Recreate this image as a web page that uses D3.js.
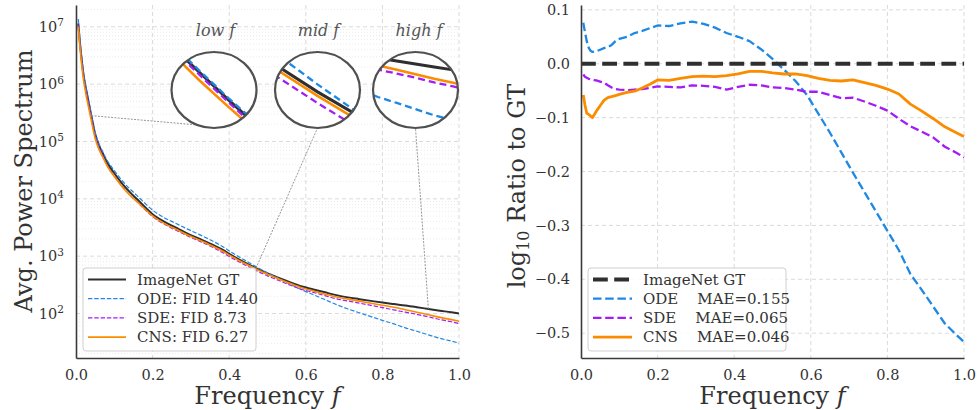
<!DOCTYPE html>
<html>
<head>
<meta charset="utf-8">
<script src="https://cdn.jsdelivr.net/npm/d3@7"></script>
<style>
  body { margin: 0; background: #fff; }
  svg { display: block; font-family: "DejaVu Serif", serif; }
  text { white-space: pre; }
</style>
</head>
<body>
<svg id="chart" width="977" height="410"></svg>
<script>
// Frequency grid (normalised) and values
const freq = [0.006, 0.01, 0.015, 0.02, 0.025, 0.03, 0.04, 0.05, 0.06, 0.07, 0.08, 0.09,
  0.1, 0.12, 0.14, 0.16, 0.18, 0.2, 0.23, 0.26, 0.29, 0.32, 0.35, 0.38, 0.41, 0.44,
  0.47, 0.5, 0.53, 0.56, 0.59, 0.62, 0.65, 0.68, 0.71, 0.74, 0.77, 0.8, 0.83, 0.86,
  0.89, 0.92, 0.95, 0.98, 1.0];

// ImageNet GT average power spectrum
const gtPower = [1.15e7, 5.5e6, 2.63e6, 1.41e6, 9.02e5, 6.1e5, 2.82e5, 1.35e5, 8.5e4, 6.17e4,
  4.47e4, 3.47e4, 2.79e4, 1.86e4, 1.32e4, 9.8e3, 7.2e3, 5.4e3, 4.0e3, 3.16e3, 2.5e3, 2.04e3,
  1.66e3, 1.32e3, 1.0e3, 776, 617, 501, 417, 347, 295, 263, 234, 209, 191, 178, 166, 155,
  146, 138, 129, 120, 112, 105, 100];

// log10(spectrum / GT) for each sampler
const odeRatio = [0.076, 0.060, 0.042, 0.030, 0.024, 0.022, 0.023, 0.026, 0.029, 0.031, 0.035,
  0.042, 0.046, 0.050, 0.057, 0.061, 0.066, 0.071, 0.070, 0.075, 0.078, 0.074, 0.067, 0.057,
  0.050, 0.042, 0.027, 0.009, -0.011, -0.032, -0.058, -0.093, -0.128, -0.165, -0.202, -0.238,
  -0.274, -0.310, -0.346, -0.390, -0.420, -0.451, -0.482, -0.503, -0.516];
const sdeRatio = [-0.020, -0.024, -0.026, -0.028, -0.029, -0.030, -0.031, -0.033, -0.035, -0.040,
  -0.044, -0.047, -0.048, -0.049, -0.048, -0.047, -0.045, -0.042, -0.043, -0.044, -0.040, -0.041,
  -0.043, -0.048, -0.043, -0.039, -0.040, -0.044, -0.045, -0.048, -0.052, -0.052, -0.058, -0.064,
  -0.063, -0.070, -0.078, -0.087, -0.102, -0.116, -0.126, -0.137, -0.154, -0.165, -0.174];
const cnsRatio = [-0.058, -0.075, -0.092, -0.094, -0.097, -0.100, -0.088, -0.078, -0.068, -0.063,
  -0.061, -0.059, -0.057, -0.053, -0.051, -0.045, -0.038, -0.030, -0.031, -0.027, -0.024, -0.023,
  -0.024, -0.022, -0.019, -0.014, -0.014, -0.017, -0.019, -0.019, -0.022, -0.027, -0.031, -0.032,
  -0.030, -0.035, -0.040, -0.047, -0.056, -0.075, -0.088, -0.102, -0.117, -0.128, -0.135];

const seriesNames = ["ImageNet GT", "ODE", "SDE", "CNS"];
const fidLabels = ["ImageNet GT", "ODE: FID 14.40", "SDE: FID 8.73", "CNS: FID 6.27"];
const maeLabels = ["ImageNet GT", "ODE    MAE=0.155", "SDE    MAE=0.065", "CNS    MAE=0.046"];

const xTicks = [0, 0.2, 0.4, 0.6, 0.8, 1.0];
const leftYTicks = [1e2, 1e3, 1e4, 1e5, 1e6, 1e7];
const rightYTicks = [0.1, 0, -0.1, -0.2, -0.3, -0.4, -0.5];

const colors = {"ImageNet GT": "#2f2f2f", ODE: "#1e88e5", SDE: "#a31cf5", CNS: "#fb8c00"};

// power spectrum of each sampler = GT * 10^ratio (definition of the right panel)
const ratios = {"ImageNet GT": freq.map(() => 0), ODE: odeRatio, SDE: sdeRatio, CNS: cnsRatio};
const spectra = {};
seriesNames.forEach(s => {
  spectra[s] = freq.map((f, i) => ({f: f, p: gtPower[i] * Math.pow(10, ratios[s][i])}));
});

const svg = d3.select("#chart");
svg.append("rect").attr("width", 977).attr("height", 410).attr("fill", "#fff");

const plotTop = 5, plotBottom = 358;
const tickFont = 14.5, labelFont = 24;

// ---------- left panel ----------
const xL = d3.scaleLinear().domain([0, 1]).range([76, 459]);
const yL = d3.scaleLog().domain([Math.pow(10, 1.224), Math.pow(10, 7.38)]).range([plotBottom, plotTop]);

const left = svg.append("g");

// grid
const minor = [];
for (let e = 1; e < 8; e++) for (let m = 2; m < 10; m++) {
  const v = m * Math.pow(10, e);
  if (v > yL.domain()[0] && v < yL.domain()[1]) minor.push(v);
}
left.append("g").selectAll("line").data(minor).enter().append("line")
  .attr("x1", 76).attr("x2", 459).attr("y1", d => yL(d)).attr("y2", d => yL(d))
  .attr("stroke", "#e4e4e4").attr("stroke-width", 0.7).attr("stroke-dasharray", "1,2");
left.append("g").selectAll("line").data(leftYTicks).enter().append("line")
  .attr("x1", 76).attr("x2", 459).attr("y1", d => yL(d)).attr("y2", d => yL(d))
  .attr("stroke", "#d6d6d6").attr("stroke-width", 0.9).attr("stroke-dasharray", "4,3");
left.append("g").selectAll("line").data(xTicks.slice(1)).enter().append("line")
  .attr("x1", d => xL(d)).attr("x2", d => xL(d)).attr("y1", plotTop).attr("y2", plotBottom)
  .attr("stroke", "#d6d6d6").attr("stroke-width", 0.9).attr("stroke-dasharray", "4,3");

const lineStyleL = {
  "ImageNet GT": {w: 2, dash: null},
  ODE: {w: 1.2, dash: "4.4,1.9"},
  SDE: {w: 1.2, dash: "4.4,1.9"},
  CNS: {w: 1.6, dash: null}
};

svg.append("clipPath").attr("id", "clipL").append("rect")
  .attr("x", 76).attr("y", plotTop).attr("width", 383).attr("height", plotBottom - plotTop);

const lineL = d3.line().curve(d3.curveMonotoneX).x(d => xL(d.f)).y(d => yL(d.p));
const curvesL = left.append("g").attr("clip-path", "url(#clipL)");
seriesNames.forEach(s => {
  curvesL.append("path").datum(spectra[s]).attr("d", lineL)
    .attr("fill", "none").attr("stroke", colors[s])
    .attr("stroke-width", lineStyleL[s].w)
    .attr("stroke-dasharray", lineStyleL[s].dash)
    .attr("stroke-linejoin", "round");
});

// zoom insets (lens windows in f and log10 power, rim angle of the connector)
const insets = [
  {cx: 214, fc: 0.035, fw: 0.03, lc: 5.57, lh: 0.95, anchorF: 0.04, title: "low", tx: 215.5, rim: 113},
  {cx: 317.5, fc: 0.47, fw: 0.059, lc: 2.797, lh: 0.272, anchorF: 0.47, title: "mid", tx: 318.5, rim: 90},
  {cx: 415.5, fc: 0.92, fw: 0.136, lc: 1.82, lh: 0.76, anchorF: 0.92, title: "high", tx: 419, rim: 90}
];
const rx = 42.5, ry = 38, cy = 90;

insets.forEach(ins => {
  const gi = freq.indexOf(ins.anchorF);
  const a = ins.rim * Math.PI / 180;
  left.append("line").attr("x1", xL(ins.anchorF)).attr("y1", yL(gtPower[gi]))
    .attr("x2", ins.cx + rx * Math.cos(a)).attr("y2", cy + ry * Math.sin(a))
    .attr("stroke", "#8a8a8a").attr("stroke-width", 0.9).attr("stroke-dasharray", "2,1.3");
});

insets.forEach((ins, k) => {
  const g = left.append("g");
  const id = "lens" + k;
  svg.append("clipPath").attr("id", id).append("ellipse")
    .attr("cx", ins.cx).attr("cy", cy).attr("rx", rx).attr("ry", ry);
  g.append("ellipse").attr("cx", ins.cx).attr("cy", cy).attr("rx", rx).attr("ry", ry)
    .attr("fill", "#fff");
  const xi = d3.scaleLinear().domain([ins.fc - ins.fw / 2, ins.fc + ins.fw / 2]).range([ins.cx - rx, ins.cx + rx]);
  const yi = d3.scaleLinear().domain([ins.lc - ins.lh / 2, ins.lc + ins.lh / 2]).range([cy + ry, cy - ry]);
  const li = d3.line().x(d => xi(d.f)).y(d => yi(Math.log10(d.p)));
  const gc = g.append("g").attr("clip-path", `url(#${id})`);
  const insetW = {"ImageNet GT": 3, ODE: 2.3, SDE: 2.3, CNS: 2.6};
  seriesNames.forEach(s => {
    gc.append("path").datum(spectra[s]).attr("d", li)
      .attr("fill", "none").attr("stroke", colors[s]).attr("stroke-width", insetW[s])
      .attr("stroke-dasharray", lineStyleL[s].dash ? "7,4" : null);
  });
  g.append("ellipse").attr("cx", ins.cx).attr("cy", cy).attr("rx", rx).attr("ry", ry)
    .attr("fill", "none").attr("stroke", "#505050").attr("stroke-width", 2.2);
  const t = left.append("text").attr("x", ins.tx).attr("y", 36).attr("text-anchor", "middle")
    .attr("font-size", 16).attr("font-style", "italic").attr("fill", "#555");
  t.text(ins.title + " ");
  t.append("tspan").text("f");
});

// axes
const axXL = left.append("g").attr("transform", `translate(0,${plotBottom})`)
  .call(d3.axisBottom(xL).tickValues(xTicks).tickFormat(d3.format(".1f")).tickSize(0).tickSizeOuter(0).tickPadding(12));
const axYL = left.append("g").attr("transform", "translate(76,0)")
  .call(d3.axisLeft(yL).tickValues(leftYTicks).tickFormat(() => "").tickSize(0).tickSizeOuter(0).tickPadding(12));
axYL.selectAll(".tick text").each(function(d) {
  const t = d3.select(this);
  t.text("10");
  t.append("tspan").attr("dy", "-0.55em").attr("font-size", "10.5px").text(Math.round(Math.log10(d)));
});

// ---------- right panel ----------
const xR = d3.scaleLinear().domain([0, 1]).range([581, 964]);
const yR = d3.scaleLinear().domain([-0.546, 0.109]).range([plotBottom, plotTop]);
const right = svg.append("g");

right.append("g").selectAll("line").data(rightYTicks).enter().append("line")
  .attr("x1", 581).attr("x2", 964).attr("y1", d => yR(d)).attr("y2", d => yR(d))
  .attr("stroke", "#d6d6d6").attr("stroke-width", 0.9).attr("stroke-dasharray", "4,3");
right.append("g").selectAll("line").data(xTicks.slice(1)).enter().append("line")
  .attr("x1", d => xR(d)).attr("x2", d => xR(d)).attr("y1", plotTop).attr("y2", plotBottom)
  .attr("stroke", "#d6d6d6").attr("stroke-width", 0.9).attr("stroke-dasharray", "4,3");

const lineStyleR = {
  "ImageNet GT": {w: 4, dash: "14.8,6.4"},
  ODE: {w: 2.3, dash: "8.5,3.7"},
  SDE: {w: 2.3, dash: "8.5,3.7"},
  CNS: {w: 2.8, dash: null}
};

const lineR = d3.line().x(d => xR(d.f)).y(d => yR(d.r));
const drawOrder = ["ODE", "SDE", "CNS", "ImageNet GT"];
drawOrder.forEach(s => {
  const pts = s === "ImageNet GT"
    ? [{f: 0, r: 0}, {f: 1, r: 0}]
    : freq.map((f, i) => ({f: f, r: ratios[s][i]}));
  right.append("path").datum(pts).attr("d", lineR)
    .attr("fill", "none").attr("stroke", colors[s])
    .attr("stroke-width", lineStyleR[s].w)
    .attr("stroke-dasharray", lineStyleR[s].dash)
    .attr("stroke-linejoin", "round");
});

const axXR = right.append("g").attr("transform", `translate(0,${plotBottom})`)
  .call(d3.axisBottom(xR).tickValues(xTicks).tickFormat(d3.format(".1f")).tickSize(0).tickSizeOuter(0).tickPadding(12));
const axYR = right.append("g").attr("transform", "translate(581,0)")
  .call(d3.axisLeft(yR).tickValues(rightYTicks).tickFormat(d => d3.format(".1f")(d).replace("-", "\u2212")).tickSize(0).tickSizeOuter(0).tickPadding(11));

// axis styling
[axXL, axYL, axXR, axYR].forEach(a => {
  a.select(".domain").attr("stroke", "#3a3a3a").attr("stroke-width", 1.6);
  a.selectAll(".tick text").attr("font-family", "DejaVu Serif").attr("font-size", tickFont).attr("fill", "#333");
});

// axis titles
left.append("text").attr("transform", "translate(32,181) rotate(-90)").attr("text-anchor", "middle")
  .attr("font-size", labelFont).attr("fill", "#333").text("Avg. Power Spectrum");
[xL, xR].forEach(x => {
  const t = svg.append("text").attr("x", (x.range()[0] + x.range()[1]) / 2).attr("y", 404)
    .attr("text-anchor", "middle").attr("font-size", labelFont).attr("fill", "#333");
  t.text("Frequency ");
  t.append("tspan").attr("font-style", "italic").text("f");
});
const yt = right.append("text").attr("transform", "translate(525,186) rotate(-90)")
  .attr("text-anchor", "middle").attr("font-size", labelFont).attr("fill", "#333");
yt.text("log");
yt.append("tspan").attr("font-size", 16).attr("dy", 4).text("10");
yt.append("tspan").attr("dy", -4).text(" Ratio to GT");

// ---------- legends ----------
function legend(x, y, w, h, labels, styles, handle, textX) {
  const g = svg.append("g");
  g.append("rect").attr("x", x).attr("y", y).attr("width", w).attr("height", h).attr("rx", 3)
    .attr("fill", "#fff").attr("fill-opacity", 0.85).attr("stroke", "#cfcfcf").attr("stroke-width", 1);
  seriesNames.forEach((s, i) => {
    const ly = y + 11.5 + i * 19.2;
    g.append("line").attr("x1", handle[0]).attr("x2", handle[1]).attr("y1", ly).attr("y2", ly)
      .attr("stroke", colors[s]).attr("stroke-width", styles[s].w).attr("stroke-dasharray", styles[s].dash);
    g.append("text").attr("x", textX).attr("y", ly).attr("dy", "0.35em")
      .attr("font-size", 15).attr("fill", "#333").text(labels[i]);
  });
}
legend(83, 268, 173, 83, fidLabels, lineStyleL, [88, 126], 137);
legend(588, 268, 198, 83, maeLabels, lineStyleR, [593, 632], 643);
</script>
</body>
</html>
